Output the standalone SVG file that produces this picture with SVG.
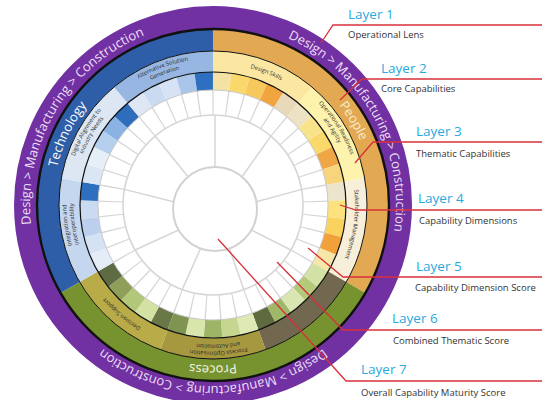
<svg xmlns="http://www.w3.org/2000/svg" width="542" height="400" viewBox="0 0 542 400">
<style>
.c{fill:none;stroke-width:18}
.t{fill:none;stroke-width:21}
.k{fill:none;stroke-width:22}
.lbl{font-family:"Open Sans","Noto Sans",sans-serif}
.lay{font-size:13.5px;fill:#2aa9e0}
.sub{font-size:9.5px;fill:#333}
.pt{font-family:"Open Sans","Noto Sans",sans-serif;font-size:13px;fill:#ecdff5}
.ct{font-family:"Open Sans","Noto Sans",sans-serif;font-size:13px}
.th{font-family:"Open Sans","Noto Sans",sans-serif;font-size:5.8px;fill:#2a2a2a}
.red{fill:none;stroke:#d9303a;stroke-width:1.3}
.sp{stroke:#d6d6d6;stroke-width:1.5}
</style>
<defs>
<path id="p183" d="M0,-183A183,183 0 1,1 0,183A183,183 0 1,1 0,-183"/>
<path id="p181" d="M0,-181A181,181 0 1,1 0,181A181,181 0 1,1 0,-181"/>
<path id="p160" d="M0,-160.5A160.5,160.5 0 1,1 0,160.5A160.5,160.5 0 1,1 0,-160.5"/>
<path id="p147" d="M0,-146.5A146.5,146.5 0 1,1 0,146.5A146.5,146.5 0 1,1 0,-146.5"/>
<path id="p140" d="M0,-139.5A139.5,139.5 0 1,1 0,139.5A139.5,139.5 0 1,1 0,-139.5"/>
<path id="p142" d="M0,-142A142,142 0 1,1 0,142A142,142 0 1,1 0,-142"/>
</defs>
<rect width="542" height="400" fill="#fff"/>
<g transform="translate(213,205)">
  <g id="layer1-operational-lens">
    <circle r="187.5" fill="none" stroke="#7131a3" stroke-width="23"/>
    <text class="pt" text-anchor="middle"><textPath href="#p183" startOffset="83.6%">Design &gt; Manufacturing &gt; Construction</textPath></text>
    <text class="pt" text-anchor="middle"><textPath href="#p183" startOffset="17%">Design &gt; Manufacturing &gt; Construction</textPath></text>
    <text class="pt" text-anchor="middle"><textPath href="#p181" startOffset="50%">Design &gt; Manufacturing &gt; Construction</textPath></text>
  </g>
  <g id="layer2-core-capabilities">
    <circle class="k" r="165" pathLength="360" stroke-dasharray="120 240" transform="rotate(-90)" stroke="#e3a952"/>
    <circle class="k" r="165" pathLength="360" stroke-dasharray="120 240" transform="rotate(30)" stroke="#76932f"/>
    <circle class="k" r="165" pathLength="360" stroke-dasharray="120 240" transform="rotate(150)" stroke="#2f5ea8"/>
    <text class="ct" fill="#ffffff" text-anchor="middle"><textPath href="#p160" startOffset="82.2%">Technology</textPath></text>
    <text class="ct" fill="#f8ebcc" text-anchor="middle"><textPath href="#p160" startOffset="16.4%">People</textPath></text>
    <text class="ct" fill="#f3f7e6" text-anchor="middle"><textPath href="#p160" startOffset="50%">Process</textPath></text>
  </g>
  <g id="layer3-thematic-capabilities">
    <circle class="t" r="143.5" pathLength="360" stroke-dasharray="40 320" transform="rotate(-90)" stroke="#fbe7a2"/>
    <circle class="t" r="143.5" pathLength="360" stroke-dasharray="40 320" transform="rotate(-50)" stroke="#fdf3ac"/>
    <circle class="t" r="143.5" pathLength="360" stroke-dasharray="40 320" transform="rotate(-10)" stroke="#f7efd9"/>
    <circle class="t" r="143.5" pathLength="360" stroke-dasharray="40 320" transform="rotate(30)" stroke="#71684f"/>
    <circle class="t" r="143.5" pathLength="360" stroke-dasharray="40 320" transform="rotate(70)" stroke="#a5983f"/>
    <circle class="t" r="143.5" pathLength="360" stroke-dasharray="40 320" transform="rotate(110)" stroke="#b9ab48"/>
    <circle class="t" r="143.5" pathLength="360" stroke-dasharray="40 320" transform="rotate(150)" stroke="#c5d6ef"/>
    <circle class="t" r="143.5" pathLength="360" stroke-dasharray="40 320" transform="rotate(190)" stroke="#dde7f4"/>
    <circle class="t" r="143.5" pathLength="360" stroke-dasharray="40 320" transform="rotate(230)" stroke="#97b6e1"/>
    <text class="th" text-anchor="middle"><textPath href="#p147" startOffset="94.4%">Alternative Solution</textPath><textPath href="#p140" startOffset="94.4%">Generation</textPath></text>
    <text class="th" text-anchor="middle"><textPath href="#p142" startOffset="6.1%">Design Skills</textPath></text>
    <text class="th" text-anchor="middle"><textPath href="#p147" startOffset="16.1%">Operational Readiness</textPath><textPath href="#p140" startOffset="16.1%">and Agility</textPath></text>
    <text class="th" text-anchor="middle"><textPath href="#p142" startOffset="27.2%">Stakeholder Management</textPath></text>
    <text class="th" text-anchor="middle"><textPath href="#p147" startOffset="49.4%">Process Optimisation</textPath><textPath href="#p140" startOffset="49.4%">and Automation</textPath></text>
    <text class="th" text-anchor="middle"><textPath href="#p142" startOffset="61.1%">Decision Support</textPath></text>
    <text class="th" text-anchor="middle"><textPath href="#p147" startOffset="72.8%">Integration and</textPath><textPath href="#p140" startOffset="72.8%">Interoperability</textPath></text>
    <text class="th" text-anchor="middle"><textPath href="#p147" startOffset="83.3%">Digital Alignment to</textPath><textPath href="#p140" startOffset="83.3%">Industry Needs</textPath></text>
  </g>
  <g id="layer4-capability-dimensions">
    <circle class="c" r="124" pathLength="360" stroke-dasharray="8 352" transform="rotate(-90)" stroke="#f4e2a4"/>
    <circle class="c" r="124" pathLength="360" stroke-dasharray="8 352" transform="rotate(-82)" stroke="#fad86c"/>
    <circle class="c" r="124" pathLength="360" stroke-dasharray="8 352" transform="rotate(-74)" stroke="#f7c85c"/>
    <circle class="c" r="124" pathLength="360" stroke-dasharray="8 352" transform="rotate(-66)" stroke="#f2a43e"/>
    <circle class="c" r="124" pathLength="360" stroke-dasharray="8 352" transform="rotate(-58)" stroke="#e7d9ba"/>
    <circle class="c" r="124" pathLength="360" stroke-dasharray="8 352" transform="rotate(-50)" stroke="#ede2c3"/>
    <circle class="c" r="124" pathLength="360" stroke-dasharray="8 352" transform="rotate(-42)" stroke="#f8e38a"/>
    <circle class="c" r="124" pathLength="360" stroke-dasharray="8 352" transform="rotate(-34)" stroke="#fbd86a"/>
    <circle class="c" r="124" pathLength="360" stroke-dasharray="8 352" transform="rotate(-26)" stroke="#f1a645"/>
    <circle class="c" r="124" pathLength="360" stroke-dasharray="8 352" transform="rotate(-18)" stroke="#f7d57d"/>
    <circle class="c" r="124" pathLength="360" stroke-dasharray="8 352" transform="rotate(-10)" stroke="#ece4cc"/>
    <circle class="c" r="124" pathLength="360" stroke-dasharray="8 352" transform="rotate(-2)" stroke="#fbe27c"/>
    <circle class="c" r="124" pathLength="360" stroke-dasharray="8 352" transform="rotate(6)" stroke="#f9d35e"/>
    <circle class="c" r="124" pathLength="360" stroke-dasharray="8 352" transform="rotate(14)" stroke="#f2a03a"/>
    <circle class="c" r="124" pathLength="360" stroke-dasharray="8 352" transform="rotate(22)" stroke="#f6e6a8"/>
    <circle class="c" r="124" pathLength="360" stroke-dasharray="8 352" transform="rotate(30)" stroke="#d3e2a4"/>
    <circle class="c" r="124" pathLength="360" stroke-dasharray="8 352" transform="rotate(38)" stroke="#b2ca7a"/>
    <circle class="c" r="124" pathLength="360" stroke-dasharray="8 352" transform="rotate(46)" stroke="#d9e6b1"/>
    <circle class="c" r="124" pathLength="360" stroke-dasharray="8 352" transform="rotate(54)" stroke="#9fb868"/>
    <circle class="c" r="124" pathLength="360" stroke-dasharray="8 352" transform="rotate(62)" stroke="#5f6b3f"/>
    <circle class="c" r="124" pathLength="360" stroke-dasharray="8 352" transform="rotate(70)" stroke="#dfe9b6"/>
    <circle class="c" r="124" pathLength="360" stroke-dasharray="8 352" transform="rotate(78)" stroke="#c4d690"/>
    <circle class="c" r="124" pathLength="360" stroke-dasharray="8 352" transform="rotate(86)" stroke="#9eb567"/>
    <circle class="c" r="124" pathLength="360" stroke-dasharray="8 352" transform="rotate(94)" stroke="#d8e5ab"/>
    <circle class="c" r="124" pathLength="360" stroke-dasharray="8 352" transform="rotate(102)" stroke="#7f9450"/>
    <circle class="c" r="124" pathLength="360" stroke-dasharray="8 352" transform="rotate(110)" stroke="#6a7848"/>
    <circle class="c" r="124" pathLength="360" stroke-dasharray="8 352" transform="rotate(118)" stroke="#d3e2a2"/>
    <circle class="c" r="124" pathLength="360" stroke-dasharray="8 352" transform="rotate(126)" stroke="#b3c77b"/>
    <circle class="c" r="124" pathLength="360" stroke-dasharray="8 352" transform="rotate(134)" stroke="#8d9f58"/>
    <circle class="c" r="124" pathLength="360" stroke-dasharray="8 352" transform="rotate(142)" stroke="#5f6b42"/>
    <circle class="c" r="124" pathLength="360" stroke-dasharray="8 352" transform="rotate(150)" stroke="#e4ecf7"/>
    <circle class="c" r="124" pathLength="360" stroke-dasharray="8 352" transform="rotate(158)" stroke="#d4e2f4"/>
    <circle class="c" r="124" pathLength="360" stroke-dasharray="8 352" transform="rotate(166)" stroke="#bcd0ed"/>
    <circle class="c" r="124" pathLength="360" stroke-dasharray="8 352" transform="rotate(174)" stroke="#c9daf1"/>
    <circle class="c" r="124" pathLength="360" stroke-dasharray="8 352" transform="rotate(182)" stroke="#2f6fc0"/>
    <circle class="c" r="124" pathLength="360" stroke-dasharray="8 352" transform="rotate(190)" stroke="#dbe6f4"/>
    <circle class="c" r="124" pathLength="360" stroke-dasharray="8 352" transform="rotate(198)" stroke="#e6eef8"/>
    <circle class="c" r="124" pathLength="360" stroke-dasharray="8 352" transform="rotate(206)" stroke="#b7cfee"/>
    <circle class="c" r="124" pathLength="360" stroke-dasharray="8 352" transform="rotate(214)" stroke="#8ab2e2"/>
    <circle class="c" r="124" pathLength="360" stroke-dasharray="8 352" transform="rotate(222)" stroke="#2e6cbc"/>
    <circle class="c" r="124" pathLength="360" stroke-dasharray="8 352" transform="rotate(230)" stroke="#dfe7f4"/>
    <circle class="c" r="124" pathLength="360" stroke-dasharray="8 352" transform="rotate(238)" stroke="#cadbf1"/>
    <circle class="c" r="124" pathLength="360" stroke-dasharray="8 352" transform="rotate(246)" stroke="#d7e3f4"/>
    <circle class="c" r="124" pathLength="360" stroke-dasharray="8 352" transform="rotate(254)" stroke="#a9c5ea"/>
    <circle class="c" r="124" pathLength="360" stroke-dasharray="8 352" transform="rotate(262)" stroke="#2f6fc0"/>
  </g>
  <g id="layer5-capability-dimension-score">
    <circle r="102.5" fill="none" stroke="#d6d6d6" stroke-width="25" pathLength="360" stroke-dasharray="0.7 7.3" stroke-dashoffset="0.35" transform="rotate(-90)"/>
    <circle r="115" fill="none" stroke="#c8c8c8" stroke-width="1"/>
  </g>
  <g id="layer6-combined-thematic-score">
    <circle r="90" fill="none" stroke="#d6d6d6" stroke-width="1.6"/>
    <g class="sp">
      <line x1="2" y1="-38" x2="2" y2="-90"/>
      <line x1="29" y1="-28.2" x2="57.85" y2="-68.94"/>
      <line x1="43.4" y1="-3.3" x2="88.63" y2="-15.63"/>
      <line x1="38.4" y1="25" x2="77.94" y2="45"/>
      <line x1="16.4" y1="43.5" x2="30.78" y2="84.57"/>
      <line x1="-12.4" y1="43.5" x2="-30.78" y2="84.57"/>
      <line x1="-34.4" y1="25" x2="-77.94" y2="45"/>
      <line x1="-39.4" y1="-3.3" x2="-88.63" y2="-15.63"/>
      <line x1="-25" y1="-28.2" x2="-57.85" y2="-68.94"/>
    </g>
  </g>
  <g id="layer7-overall-score">
    <circle cx="2" cy="4" r="42" fill="#fff" stroke="#d2d2d2" stroke-width="2"/>
  </g>
  <g id="ring-borders" fill="none" stroke="#111">
    <circle r="176" stroke-width="2.4"/>
    <circle r="154" stroke-width="1"/>
    <circle r="133" stroke-width="1.2"/>
  </g>
</g>
<g id="connectors" class="red">
  <polyline points="542,25 333,25 321,43"/>
  <polyline points="542,79 362,79 340,100"/>
  <polyline points="542,142 373,142 355,163"/>
  <polyline points="542,210 356,210 340,205"/>
  <polyline points="542,277 343,277 308,248"/>
  <polyline points="542,330 343,330 277,262"/>
  <polyline points="542,381 346,381 218,239"/>
</g>
<g id="legend" class="lbl">
  <g id="label-layer1"><text class="lay" x="348" y="19">Layer 1</text><text class="sub" x="348" y="38">Operational Lens</text></g>
  <g id="label-layer2"><text class="lay" x="381" y="73">Layer 2</text><text class="sub" x="381" y="92">Core Capabilities</text></g>
  <g id="label-layer3"><text class="lay" x="416" y="136">Layer 3</text><text class="sub" x="416" y="157">Thematic Capabilities</text></g>
  <g id="label-layer4"><text class="lay" x="418" y="203">Layer 4</text><text class="sub" x="419" y="224">Capability Dimensions</text></g>
  <g id="label-layer5"><text class="lay" x="416" y="271">Layer 5</text><text class="sub" x="415" y="291">Capability Dimension Score</text></g>
  <g id="label-layer6"><text class="lay" x="392" y="323">Layer 6</text><text class="sub" x="393" y="344">Combined Thematic Score</text></g>
  <g id="label-layer7"><text class="lay" x="361" y="374">Layer 7</text><text class="sub" x="361" y="396">Overall Capability Maturity Score</text></g>
</g>
</svg>
